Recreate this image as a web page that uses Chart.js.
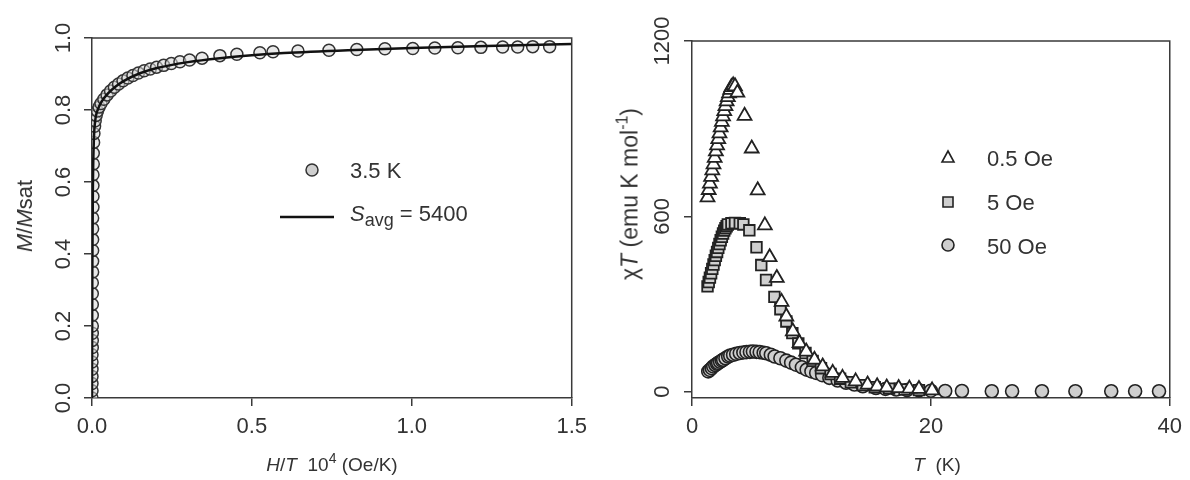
<!DOCTYPE html>
<html>
<head>
<meta charset="utf-8">
<script src="https://cdn.jsdelivr.net/npm/chart.js@4.4.1/dist/chart.umd.min.js"></script>
<style>
  html, body { margin: 0; padding: 0; background: #fff; }
  #wrap { position: relative; width: 1190px; height: 480px; overflow: hidden; font-family: "Liberation Sans", Arial, sans-serif; color: #333; }
  canvas { position: absolute; top: 0; }
  .ttl { position: absolute; white-space: nowrap; font-size: 19px; color: #333; transform: translate(-50%, -50%); }
  .rot { transform: translate(-50%, -50%) rotate(-90deg); }
  sup { font-size: 14px; vertical-align: 8px; line-height: 0; }
</style>
</head>
<body>
<div id="wrap">
  <canvas id="c1" width="595" height="480" style="left:0"></canvas>
  <canvas id="c2" width="595" height="480" style="left:595px"></canvas>
  <div class="ttl rot" style="left:25px; top:216px; font-size:22px;"><i>M</i>/<i>M</i>sat</div>
  <div class="ttl" style="left:332px; top:465px;"><i>H</i>/<i>T</i>&nbsp; 10<sup>4</sup> (Oe/K)</div>
  <div class="ttl rot" style="left:630px; top:194px; font-size:23px;">χ<i>T</i> (emu K mol<sup style="font-size:16px;vertical-align:10px">-1</sup>)</div>
  <div class="ttl" style="left:937px; top:465px;"><i>T</i>&nbsp; (K)</div>
</div>
<script>
// ---------- Left panel data: M/Msat vs H/T (10^4 Oe/K) at 3.5 K ----------
const leftXTicks = [0, 0.5, 1.0, 1.5];
const leftYTicks = [0, 0.2, 0.4, 0.6, 0.8, 1.0];
const circX = [0.000,0.000,0.000,0.000,0.000,0.000,0.000,0.001,0.001,0.001,0.001,0.001,0.001,0.001,0.001,0.002,0.002,0.002,0.002,0.002,0.002,0.003,0.003,0.003,0.003,0.004,0.004,0.005,0.006,0.008,0.010,0.013,0.017,0.022,
  0.028,0.037,0.047,0.058,0.070,0.083,0.097,0.112,0.128,0.145,0.163,0.182,0.202,0.224,0.248,0.275,0.305,0.344,0.400,0.453,0.525,0.566,0.644,0.741,0.828,0.916,1.003,1.072,1.144,1.216,1.284,1.331,1.378,1.431];
const circY = [0.00,0.02,0.04,0.06,0.08,0.10,0.12,0.14,0.16,0.18,0.20,0.23,0.26,0.29,0.32,0.35,0.38,0.41,0.44,0.47,0.50,0.53,0.56,0.59,0.62,0.65,0.68,0.71,0.735,0.755,0.770,0.785,0.797,0.808,
  0.818,0.830,0.842,0.853,0.863,0.872,0.881,0.889,0.896,0.903,0.909,0.914,0.919,0.924,0.929,0.934,0.939,0.944,0.951,0.955,0.959,0.962,0.964,0.966,0.968,0.970,0.971,0.972,0.973,0.974,0.975,0.975,0.976,0.976];
const fitX = [0, 0.001, 0.003, 0.006, 0.01, 0.02, 0.03, 0.05, 0.075, 0.1, 0.15, 0.2, 0.3, 0.4, 0.5, 0.6, 0.8, 1.0, 1.2, 1.5];
const fitY = [0, 0.35, 0.60, 0.72, 0.77, 0.805, 0.823, 0.846, 0.866, 0.881, 0.902, 0.916, 0.933, 0.944, 0.952, 0.958, 0.966, 0.972, 0.977, 0.983];

// ---------- Right panel data: chi*T vs T ----------
const rightXTicks = [0, 20, 40];
const rightYTicks = [0, 600, 1200];
const triT = [1.3,1.4,1.5,1.6,1.7,1.8,1.9,2.0,2.1,2.2,2.3,2.4,2.5,2.6,2.7,2.8,2.9,3.0,3.1,3.2,3.3,3.45,3.6,3.8,4.4,5.0,5.5,6.1,6.5,7.1,7.5,7.9,8.44,9.0,9.56,10.25,10.94,11.78,12.6,13.7,14.7,15.5,16.3,17.3,18.2,19.0,20.1];
const triV = [665,690,712,735,757,778,800,822,843,864,884,904,923,942,960,977,993,1008,1021,1033,1042,1048,1045,1023,944,832,689,569,460,389,307,257,206,166,137,109,86,64,47,35,24,18,14,12,10,9,4];
const sqT = [1.3,1.4,1.5,1.6,1.7,1.8,1.9,2.0,2.1,2.2,2.3,2.4,2.5,2.6,2.7,2.8,2.9,3.0,3.3,3.6,4.0,4.3,4.8,5.4,5.8,6.2,6.9,7.4,7.9,8.4,8.9,9.5,10.1,10.8,11.6,12.4,13.3,14.3,15.3,16.5,17.8,19.0];
const sqV = [360,375,390,405,420,435,450,465,478,492,505,518,530,541,551,559,566,572,576,577,576,572,552,494,433,382,324,282,240,200,165,132,105,80,60,44,32,22,15,10,7,5];
const cirT = [1.36,1.5,1.65,1.78,1.95,2.1,2.19,2.35,2.5,2.61,2.8,3.03,3.2,3.44,3.7,4.0,4.3,4.56,4.85,5.1,5.4,5.67,6.0,6.22,6.6,6.92,7.4,7.9,8.3,8.7,9.2,9.6,10.0,10.4,10.9,11.5,12.2,12.9,13.6,14.3,15.4,16.2,17.1,18.0,19.0,20.0,21.2,22.6,25.1,26.8,29.3,32.1,35.1,37.1,39.1];
const cirV = [69,74,80,86,91,95,98,102,106,109,114,120,123,126,129,132,134,135,136,137,136,135,133,131,126,120,114,106,99,92,83,75,69,64,56,47,38,30,24,18,12,9,7,5,4,3,2,2,1,1,1,1,1,1,1];

const FONT = '"Liberation Sans", Arial, sans-serif';
const AXC = '#3a3a3a';
const zip = (xs, ys) => xs.map((x, i) => ({x: x, y: ys[i]}));

function frame(id) {
  return {
    id: 'frame' + id,
    afterDatasetsDraw(chart) {
      const a = chart.chartArea, ctx = chart.ctx;
      ctx.save();
      ctx.strokeStyle = AXC; ctx.lineWidth = 1.5;
      ctx.beginPath();
      ctx.moveTo(a.left, a.top); ctx.lineTo(a.right, a.top); ctx.lineTo(a.right, a.bottom);
      ctx.stroke();
      ctx.restore();
    }
  };
}

function axisX(min, max, ticks, fmt, h) {
  return {
    type: 'linear', min: min, max: max,
    afterBuildTicks: s => { s.ticks = ticks.map(v => ({value: v})); },
    afterFit: s => { s.height = h; },
    ticks: { font: {family: FONT, size: 22}, color: '#333', padding: 8, maxRotation: 0, callback: fmt },
    grid: { display: true, drawOnChartArea: false, drawTicks: true, tickLength: 8, color: AXC, lineWidth: 1.5 },
    border: { display: true, color: AXC, width: 1.5 }
  };
}
function axisY(min, max, ticks, fmt, w, pad) {
  return {
    type: 'linear', min: min, max: max,
    afterBuildTicks: s => { s.ticks = ticks.map(v => ({value: v})); },
    afterFit: s => { s.width = w; },
    ticks: { font: {family: FONT, size: 22}, color: '#333', padding: pad, minRotation: 90, maxRotation: 90, crossAlign: 'center', callback: fmt },
    grid: { display: true, drawOnChartArea: false, drawTicks: true, tickLength: 8, color: AXC, lineWidth: 1.5 },
    border: { display: true, color: AXC, width: 1.5 }
  };
}

// left legend
const legendLeft = {
  id: 'legL',
  afterDraw(chart) {
    const ctx = chart.ctx;
    ctx.save();
    ctx.fillStyle = '#cfcfcf'; ctx.strokeStyle = '#333'; ctx.lineWidth = 1.5;
    ctx.beginPath(); ctx.arc(312, 170, 6, 0, Math.PI * 2); ctx.fill(); ctx.stroke();
    ctx.strokeStyle = '#111'; ctx.lineWidth = 2.5;
    ctx.beginPath(); ctx.moveTo(280, 217); ctx.lineTo(334, 217); ctx.stroke();
    ctx.fillStyle = '#333'; ctx.textBaseline = 'middle'; ctx.textAlign = 'left';
    ctx.font = '22px ' + FONT;
    ctx.fillText('3.5 K', 350, 172);
    ctx.font = 'italic 22px ' + FONT;
    ctx.fillText('S', 350, 215);
    let x = 350 + ctx.measureText('S').width;
    ctx.font = '18px ' + FONT;
    ctx.fillText('avg', x, 221);
    x += ctx.measureText('avg').width;
    ctx.font = '22px ' + FONT;
    ctx.fillText(' = 5400', x, 215);
    ctx.restore();
  }
};
const legendRight = {
  id: 'legR',
  afterDraw(chart) {
    const ctx = chart.ctx, ox = 595;
    ctx.save();
    ctx.lineWidth = 1.6; ctx.strokeStyle = '#222';
    const tx = 948 - ox, ty = 157;
    ctx.fillStyle = '#fff';
    ctx.beginPath(); ctx.moveTo(tx, ty - 6); ctx.lineTo(tx + 6, ty + 5); ctx.lineTo(tx - 6, ty + 5); ctx.closePath(); ctx.fill(); ctx.stroke();
    ctx.fillStyle = '#cfcfcf';
    ctx.beginPath(); ctx.rect(948 - ox - 5, 202 - 5, 10, 10); ctx.fill(); ctx.stroke();
    ctx.beginPath(); ctx.arc(948 - ox, 245, 6, 0, Math.PI * 2); ctx.fill(); ctx.stroke();
    ctx.fillStyle = '#333'; ctx.textBaseline = 'middle'; ctx.textAlign = 'left';
    ctx.font = '22px ' + FONT;
    ctx.fillText('0.5 Oe', 987 - ox, 160);
    ctx.fillText('5 Oe', 987 - ox, 204);
    ctx.fillText('50 Oe', 987 - ox, 248);
    ctx.restore();
  }
};

const common = {
  responsive: false, animation: false, devicePixelRatio: 1,
  plugins: { legend: { display: false }, tooltip: { enabled: false } },
  events: []
};

new Chart(document.getElementById('c1'), {
  type: 'scatter',
  data: {
    datasets: [
      { label: 'fit', data: zip(fitX, fitY), showLine: true, borderColor: '#111', borderWidth: 2.5, pointRadius: 0, cubicInterpolationMode: 'monotone', order: 0 },
      { label: '3.5 K', data: zip(circX, circY), pointStyle: 'circle', pointRadius: 6, backgroundColor: 'rgba(215,215,215,0.55)', borderColor: '#333', pointBorderWidth: 1.5, order: 1 }
    ]
  },
  options: Object.assign({}, common, {
    layout: { padding: { left: 0, right: 22, top: 38, bottom: 0 } },
    scales: {
      x: axisX(0, 1.5, leftXTicks, v => v.toFixed(1), 82),
      y: axisY(0, 1.0, leftYTicks, v => v.toFixed(1), 92, 5)
    }
  }),
  plugins: [frame(1), legendLeft]
});

new Chart(document.getElementById('c2'), {
  type: 'scatter',
  data: {
    datasets: [
      { label: '0.5 Oe', data: zip(triT, triV), pointStyle: 'triangle', pointRadius: 8, backgroundColor: '#fff', borderColor: '#222', pointBorderWidth: 1.8, order: 0 },
      { label: '5 Oe', data: zip(sqT, sqV), pointStyle: 'rect', pointRadius: 7.5, backgroundColor: '#cfcfcf', borderColor: '#222', pointBorderWidth: 1.8, order: 1 },
      { label: '50 Oe', data: zip(cirT, cirV), pointStyle: 'circle', pointRadius: 6.5, backgroundColor: '#cfcfcf', borderColor: '#222', pointBorderWidth: 1.6, order: 2 }
    ]
  },
  options: Object.assign({}, common, {
    layout: { padding: { left: 0, right: 17, top: 41, bottom: 0 } },
    scales: {
      x: axisX(0, 40, rightXTicks, v => String(v), 82),
      y: axisY(-22, 1200, rightYTicks, v => String(v), 97, -3)
    }
  }),
  plugins: [frame(2), legendRight]
});
</script>
</body>
</html>
